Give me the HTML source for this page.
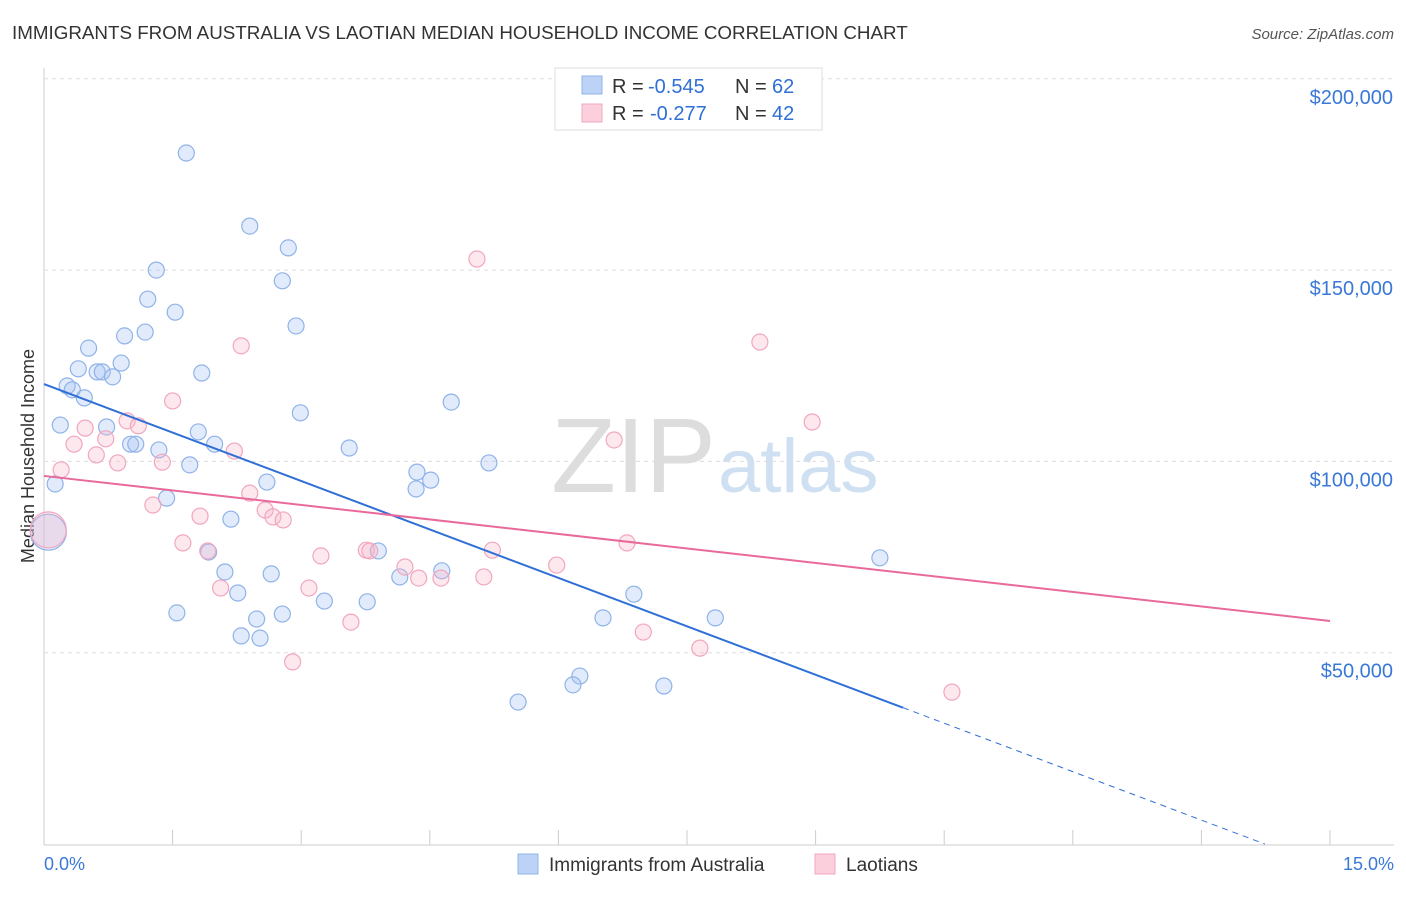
<!DOCTYPE html>
<html><head><meta charset="utf-8"><style>
body{margin:0;background:#fff;font-family:"Liberation Sans",sans-serif}
svg text{font-family:"Liberation Sans",sans-serif}
</style></head><body>
<svg id="c" width="1406" height="892">
<text x="12" y="39" font-size="18.8" fill="#333">IMMIGRANTS FROM AUSTRALIA VS LAOTIAN MEDIAN HOUSEHOLD INCOME CORRELATION CHART</text>
<text x="1394" y="39" font-size="15" fill="#555" font-style="italic" text-anchor="end">Source: ZipAtlas.com</text>
<text x="716" y="492" font-size="106" fill="#ddd" text-anchor="end" font-family="Liberation Serif">ZIP</text>
<text x="718" y="492" font-size="76" fill="#cfe0f3">atlas</text>
<text transform="translate(34,456) rotate(-90)" font-size="18" fill="#333" text-anchor="middle">Median Household Income</text>
<g id="grid"></g><g id="pts"></g><g id="lines"></g>
<g>
<rect x="555" y="68" width="267" height="62" fill="#fff" stroke="#ddd"/>
<rect x="582" y="76" width="20" height="18" fill="#bcd3f5" stroke="#8fb3e8"/>
<rect x="582" y="104" width="20" height="18" fill="#fbd0dc" stroke="#f1a6bf"/>
<text x="612" y="93" font-size="20" fill="#333">R =</text><text x="648" y="93" font-size="20" fill="#2f6fd6">-0.545</text>
<text x="735" y="93" font-size="20" fill="#333">N =</text><text x="772" y="93" font-size="20" fill="#2f6fd6">62</text>
<text x="612" y="120" font-size="20" fill="#333">R =</text><text x="650" y="120" font-size="20" fill="#2f6fd6">-0.277</text>
<text x="735" y="120" font-size="20" fill="#333">N =</text><text x="772" y="120" font-size="20" fill="#2f6fd6">42</text>
</g>
<g>
<rect x="518" y="854" width="20" height="20" fill="#bcd3f5" stroke="#8fb3e8"/>
<text x="549" y="871" font-size="19" fill="#333">Immigrants from Australia</text>
<rect x="815" y="854" width="20" height="20" fill="#fbd0dc" stroke="#f1a6bf"/>
<text x="846" y="871" font-size="19" fill="#333">Laotians</text>
</g>
<text x="44" y="870" font-size="18" fill="#3a78d8">0.0%</text>
<text x="1394" y="870" font-size="18" fill="#3a78d8" text-anchor="end">15.0%</text>
</svg>
<script>
const yTicks=[50000,100000,150000,200000];
const yTickLabels=["$50,000","$100,000","$150,000","$200,000"];
const blueX=[1.66,2.40,2.85,2.78,1.31,1.21,1.53,2.94,0.94,1.18,0.52,0.40,0.62,0.68,0.80,0.90,1.84,0.27,0.33,0.47,4.75,2.99,0.19,0.73,1.80,1.01,1.07,1.99,1.34,3.56,5.19,1.70,4.35,4.51,4.34,2.60,0.13,1.43,2.18,9.75,3.90,1.92,2.11,2.65,4.15,4.64,2.26,6.88,3.27,3.77,1.55,2.48,2.78,6.52,7.83,2.30,2.52,6.25,6.17,7.23,5.53,0.05];
const blueY=[180.6,161.5,155.8,147.2,150.0,142.4,139.0,135.4,132.8,133.8,129.6,124.2,123.4,123.4,122.1,125.7,123.1,119.7,118.7,116.6,115.5,112.7,109.5,109.0,107.7,104.5,104.5,104.5,103.0,103.5,99.6,99.1,97.2,95.1,92.8,94.6,94.1,90.4,84.9,74.8,76.6,76.3,71.1,70.6,69.8,71.4,65.6,65.3,63.5,63.3,60.4,58.8,60.1,59.1,59.1,54.4,53.8,43.9,41.6,41.3,37.1,81.5];
const pinkX=[5.05,8.35,2.30,1.50,8.96,0.97,1.10,0.48,0.35,6.65,0.72,2.22,0.61,0.86,1.38,0.20,2.40,1.27,2.58,1.82,2.67,2.79,6.80,1.62,1.91,3.23,3.76,3.80,5.23,5.98,4.21,4.37,4.63,5.13,2.06,3.09,3.58,6.99,7.65,2.90,10.59,0.05];
const pinkY=[152.9,131.2,130.2,115.8,110.3,110.6,109.3,108.7,104.5,105.6,105.9,102.7,101.7,99.6,99.8,97.8,91.7,88.6,87.3,85.7,85.5,84.7,78.7,78.7,76.6,75.3,76.8,76.6,76.8,72.9,72.4,69.5,69.5,69.8,66.9,66.9,58.0,55.4,51.2,47.6,39.7,82.1];
const blueLine=[120.2,0];
const blueLineEnd=[10.02,14.24];
const pinkLine=[96.2,58.3];
const NS="http://www.w3.org/2000/svg";
const X=v=>44+v/15*1286, Y=k=>844-k/0.26137;
function mk(t,a,p){const e=document.createElementNS(NS,t);for(const k in a)e.setAttribute(k,a[k]);p.appendChild(e);return e;}
const g=document.getElementById('grid');
const ax=mk('line',{x1:44,y1:68,x2:44,y2:845,stroke:'#ccc'},g);


const bx=mk('line',{x1:44,y1:845,x2:1394,y2:845,stroke:'#ccc'},g);


for(let i=1;i<=10;i++){const t=mk('line',{x1:X(i*1.5),x2:X(i*1.5),y1:830,y2:845,stroke:'#ccc'},g);

}
yTicks.forEach((v,i)=>{const y=Y(v/1000);
const l=mk('line',{x1:44,x2:1394,y1:y,y2:y,stroke:'#ddd','stroke-dasharray':'4,4'},g);


const t=mk('text',{x:1393,y:y+25,'font-size':20,fill:'#3a78d8','text-anchor':'end'},g);t.textContent=yTickLabels[i];

});
const p=document.getElementById('pts');
function pts(xs,ys,fill,stroke,name){xs.forEach((x,i)=>{const big=x<0.1;
const c=mk('circle',{cx:X(x),cy:Y(ys[i]),r:big?18:8,fill:fill,stroke:stroke,'stroke-width':1.2},p);

});}
pts(blueX,blueY,'rgba(164,194,244,0.32)','#8fb3e8','point-australia');
pts(pinkX,pinkY,'rgba(248,180,200,0.3)','#f1a6bf','point-laotian');
const L=document.getElementById('lines');
const by=x=>blueLine[0]+(blueLine[1]-blueLine[0])*x/blueLineEnd[1];
const b1=mk('line',{x1:X(0),y1:Y(by(0)),x2:X(blueLineEnd[0]),y2:Y(by(blueLineEnd[0])),stroke:'#2f6fd6','stroke-width':2},L);


const b2=mk('line',{x1:X(blueLineEnd[0]),y1:Y(by(blueLineEnd[0])),x2:X(blueLineEnd[1]),y2:Y(0),stroke:'#2f6fd6','stroke-width':1,'stroke-dasharray':'6,5'},L);


const pl=mk('line',{x1:X(0),y1:Y(pinkLine[0]),x2:X(15),y2:Y(pinkLine[1]),stroke:'#e8699a','stroke-width':2},L);


</script>
</body></html>
